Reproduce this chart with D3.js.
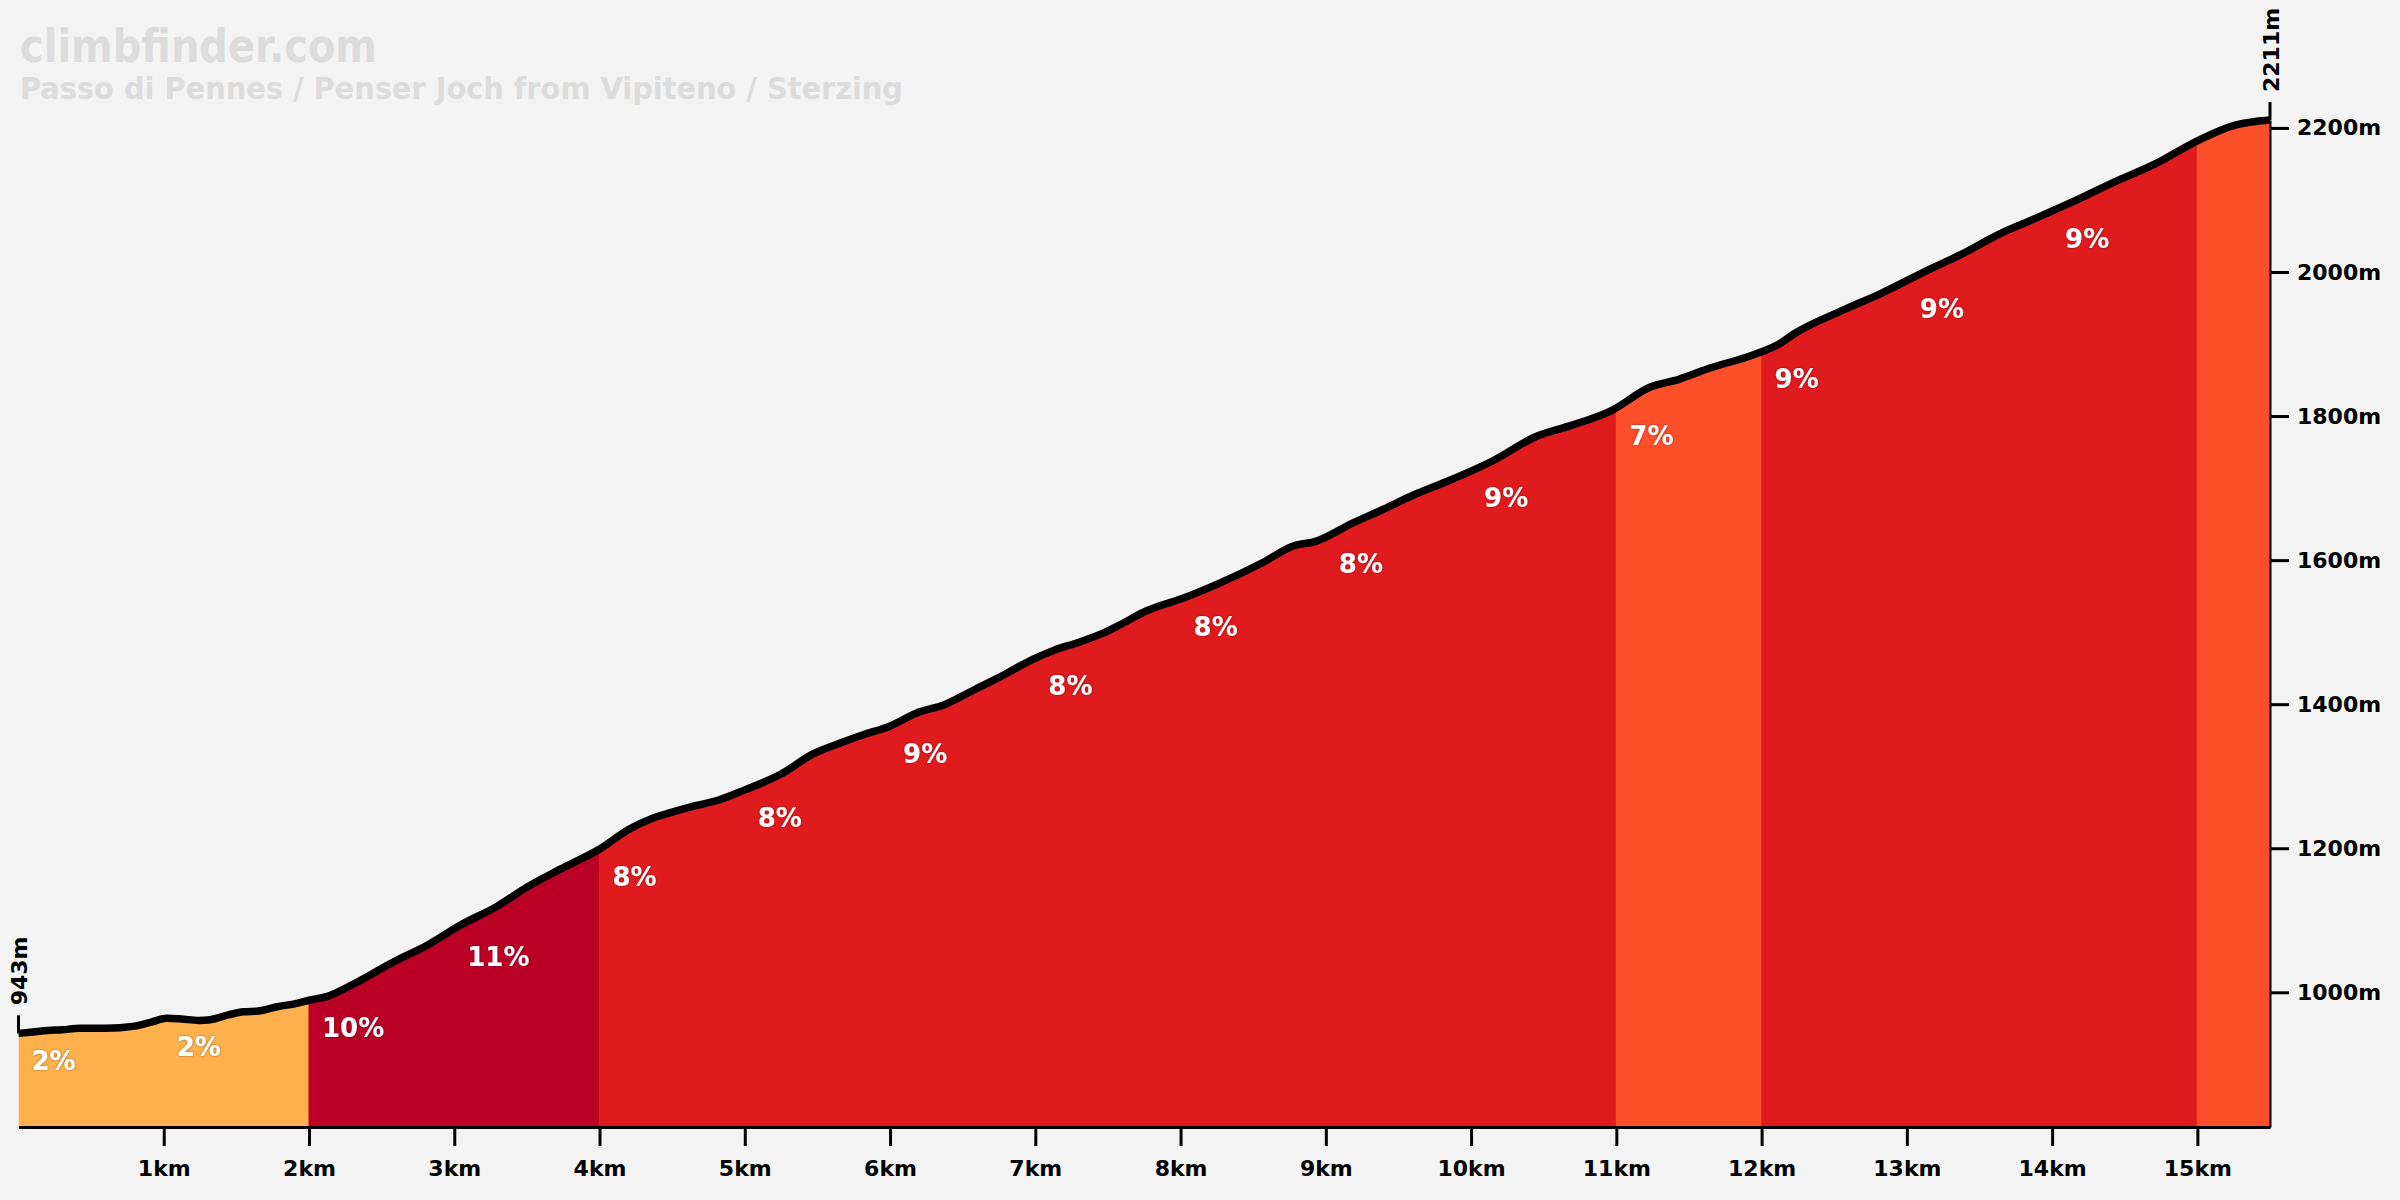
<!DOCTYPE html>
<html><head><meta charset="utf-8">
<script src="https://cdn.jsdelivr.net/npm/d3@7"></script>
<style>html,body{margin:0;padding:0;background:#f3f3f3;} svg{display:block;}</style>
</head><body>
<script>
// ---- data ----
const distances = [0, 0.1, 0.2, 0.3, 0.42, 0.6, 0.8, 0.92, 1.02, 1.12, 1.24, 1.32, 1.45, 1.55, 1.65, 1.78, 1.9, 2.0,
  2.12, 2.33, 2.58, 2.82, 3.04, 3.3, 3.5, 3.73, 4.01, 4.2, 4.37, 4.5, 4.66, 4.82, 5.0, 5.25, 5.47, 5.67, 5.82, 5.98,
  6.2, 6.37, 6.57, 6.73, 6.99, 7.13, 7.30, 7.47, 7.59, 7.77, 8.03, 8.28, 8.56, 8.78, 8.93, 9.18, 9.40, 9.60, 9.82,
  10.16, 10.44, 10.69, 10.97, 11.23, 11.43, 11.65, 11.93, 12.12, 12.23, 12.56, 12.82, 13.17, 13.36, 13.65, 13.88,
  14.17, 14.43, 14.72, 14.98, 15.26, 15.4, 15.5];
const elevations = [943, 945, 947, 948, 950, 950, 953, 959, 964, 963, 961, 962, 969, 973, 974, 980, 984, 989,
  994, 1014, 1042, 1066, 1093, 1120, 1146, 1171, 1200, 1226, 1242, 1250, 1259, 1267, 1281, 1303, 1331, 1347, 1358, 1368,
  1389, 1399, 1419, 1435, 1463, 1475, 1486, 1499, 1511, 1530, 1548, 1569, 1596, 1620, 1626, 1651, 1671, 1690, 1708,
  1739, 1771, 1787, 1808, 1840, 1851, 1867, 1884, 1900, 1915, 1947, 1970, 2005, 2023, 2054, 2074,
  2100, 2125, 2151, 2180, 2204, 2209, 2211];
const segmentStarts = [0, 1, 2, 3, 4, 5, 6, 7, 8, 9, 10, 11, 12, 13, 14, 15];
const segmentEnds   = [1, 2, 3, 4, 5, 6, 7, 8, 9, 10, 11, 12, 13, 14, 15, 15.5];
const segmentGrades = [2, 2, 10, 11, 8, 8, 9, 8, 8, 8, 9, 7, 9, 9, 9, 7];
const xTickValues = [1, 2, 3, 4, 5, 6, 7, 8, 9, 10, 11, 12, 13, 14, 15];
const yTickValues = [1000, 1200, 1400, 1600, 1800, 2000, 2200];
const titleText = "climbfinder.com";
const subtitleText = "Passo di Pennes / Penser Joch from Vipiteno / Sterzing";

// ---- drawing ----
const W = 2400, H = 1200;
const FONT = "'DejaVu Sans', sans-serif";
const svg = d3.select("body").append("svg").attr("width", W).attr("height", H);
svg.append("rect").attr("width", W).attr("height", H).attr("fill", "#f3f3f3");

const x = d3.scaleLinear().domain([0, d3.max(distances)]).range([18.5, 2270]);
const y = d3.scaleLinear().domain([d3.min(elevations) - 130, d3.max(elevations)]).range([1127, 120]);
const color = d3.scaleThreshold().domain([4, 8, 10])
  .range(["#fdb04b", "#fe4f2b", "#e01b1e", "#bb0026"]);

const pts = distances.map((d, i) => [d, elevations[i]]);
const elevAt = k => {
  const i = Math.min(Math.max(d3.bisectRight(distances, k), 1), distances.length - 1);
  const t = (k - distances[i - 1]) / (distances[i] - distances[i - 1]);
  return elevations[i - 1] + t * (elevations[i] - elevations[i - 1]);
};

const area = d3.area().x(d => x(d[0])).y0(y.range()[0]).y1(d => y(d[1])).curve(d3.curveMonotoneX);
const line = d3.line().x(d => x(d[0])).y(d => y(d[1])).curve(d3.curveMonotoneX);

const defs = svg.append("defs");
const f = defs.append("filter").attr("id", "shadow").attr("x", "-20%").attr("y", "-20%").attr("width", "140%").attr("height", "140%");
f.append("feDropShadow").attr("dx", 0).attr("dy", 0).attr("stdDeviation", 1.2).attr("flood-color", "#000").attr("flood-opacity", 0.45);

// merge consecutive segments of the same colour into runs (avoids seams)
const runs = [];
segmentStarts.forEach((a, i) => {
  const c = color(segmentGrades[i]);
  const last = runs[runs.length - 1];
  if (last && last.c === c) last.b = segmentEnds[i];
  else runs.push({ a, b: segmentEnds[i], c });
});
runs.forEach((r, i) => {
  defs.append("clipPath").attr("id", "run" + i).append("rect")
    .attr("x", x(r.a) - (i ? 0.5 : 0)).attr("y", 0)
    .attr("width", x(r.b) - x(r.a) + (i ? 0.5 : 0)).attr("height", H);
  svg.append("path").attr("d", area(pts)).attr("fill", r.c)
    .attr("clip-path", `url(#run${i})`);
});

// profile line
svg.append("path").attr("d", line(pts)).attr("fill", "none")
  .attr("stroke", "#000").attr("stroke-width", 7.5).attr("stroke-linejoin", "round");

// grade labels
segmentStarts.forEach((a, i) => {
  if (segmentEnds[i] - a < 1) return;
  svg.append("text").attr("x", x(a) + 13).attr("y", y(elevAt(a)) + 37)
    .attr("font-family", FONT).attr("font-weight", "bold").attr("font-size", 26)
    .attr("fill", "#fff").attr("filter", "url(#shadow)")
    .text(segmentGrades[i] + "%");
});

// x axis
const gx = svg.append("g").attr("transform", `translate(0,${y.range()[0]})`)
  .call(d3.axisBottom(x).tickValues(xTickValues).tickFormat(d => d + "km").tickSize(19).tickSizeOuter(0).tickPadding(14));
gx.select(".domain").attr("stroke", "#000").attr("stroke-width", 3);
gx.selectAll(".tick line").attr("stroke", "#000").attr("stroke-width", 3);
gx.selectAll("text").attr("font-family", FONT).attr("font-weight", "bold").attr("font-size", 22).attr("fill", "#000");

// y axis (right)
const gy = svg.append("g").attr("transform", `translate(${x.range()[1]},0)`)
  .call(d3.axisRight(y).tickValues(yTickValues).tickFormat(d => d + "m").tickSize(19).tickSizeOuter(0).tickPadding(8));
gy.select(".domain").attr("stroke", "#000").attr("stroke-width", 2);
gy.selectAll(".tick line").attr("stroke", "#000").attr("stroke-width", 3);
gy.selectAll("text").attr("font-family", FONT).attr("font-weight", "bold").attr("font-size", 22).attr("fill", "#000");

// start / end elevation markers
const marks = [[distances[0], elevations[0]], [distances[distances.length - 1], elevations[elevations.length - 1]]];
marks.forEach(([d, e]) => {
  svg.append("line").attr("x1", x(d)).attr("x2", x(d)).attr("y1", y(e)).attr("y2", y(e) - 18)
    .attr("stroke", "#000").attr("stroke-width", 3);
  svg.append("text").attr("transform", `translate(${x(d) + 8.5},${y(e) - 28}) rotate(-90)`)
    .attr("font-family", FONT).attr("font-weight", "bold").attr("font-size", 22).attr("fill", "#000")
    .text(e + "m");
});

// titles
svg.append("text").attr("x", 20).attr("y", 62).attr("font-family", FONT).attr("font-weight", "bold")
  .attr("font-size", 46).attr("fill", "#dcdcdc").attr("textLength", 357).attr("lengthAdjust", "spacingAndGlyphs")
  .text(titleText);
svg.append("text").attr("x", 20).attr("y", 99).attr("font-family", FONT).attr("font-weight", "bold")
  .attr("font-size", 31).attr("fill", "#dcdcdc").attr("textLength", 883).attr("lengthAdjust", "spacingAndGlyphs")
  .text(subtitleText);
</script>
</body></html>
